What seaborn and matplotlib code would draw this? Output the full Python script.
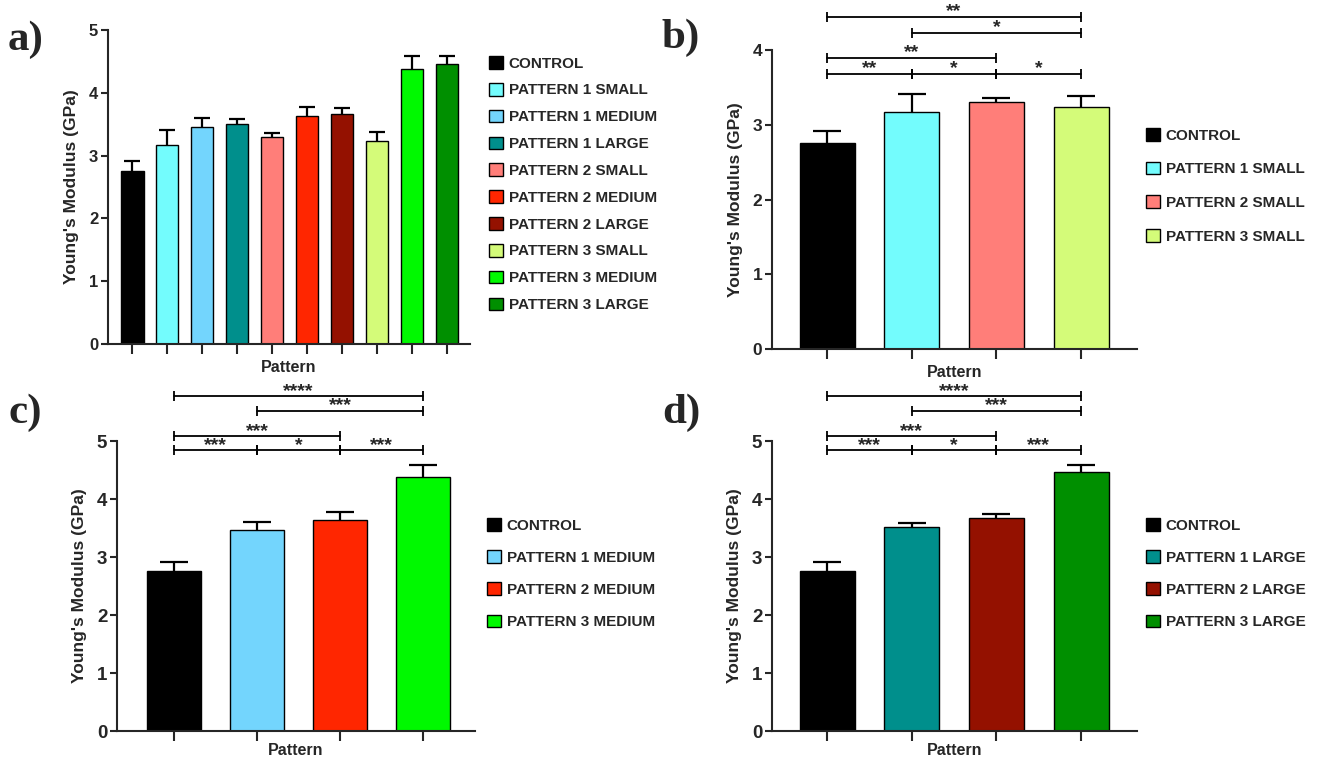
import matplotlib
matplotlib.use('Agg')
import matplotlib.pyplot as plt
import seaborn as sns
import pandas as pd
from matplotlib.patches import Patch

sns.set_style('ticks')
plt.rcParams['font.family'] = ['Liberation Sans', 'DejaVu Sans']
plt.rcParams['font.weight'] = 'bold'

# data
groups = ['CONTROL',
          'PATTERN 1 SMALL', 'PATTERN 1 MEDIUM', 'PATTERN 1 LARGE',
          'PATTERN 2 SMALL', 'PATTERN 2 MEDIUM', 'PATTERN 2 LARGE',
          'PATTERN 3 SMALL', 'PATTERN 3 MEDIUM', 'PATTERN 3 LARGE']
modulus = [2.76, 3.17, 3.46, 3.51, 3.30, 3.63, 3.67, 3.24, 4.38, 4.46]
sem = [0.16, 0.24, 0.14, 0.08, 0.06, 0.15, 0.08, 0.14, 0.21, 0.13]
colors = ['#000000', '#73FCFD', '#73D5FD', '#008F8C', '#FF7E79',
          '#FF2600', '#941100', '#D4FB79', '#00F900', '#008F00']

small_groups = ['CONTROL', 'PATTERN 1 SMALL', 'PATTERN 2 SMALL', 'PATTERN 3 SMALL']
medium_groups = ['CONTROL', 'PATTERN 1 MEDIUM', 'PATTERN 2 MEDIUM', 'PATTERN 3 MEDIUM']
large_groups = ['CONTROL', 'PATTERN 1 LARGE', 'PATTERN 2 LARGE', 'PATTERN 3 LARGE']

# significance brackets: (from, to, height, stars)
sig_small = [(0, 1, 3.68, '**'), (1, 2, 3.68, '*'), (2, 3, 3.68, '*'),
             (0, 2, 3.89, '**'), (1, 3, 4.23, '*'), (0, 3, 4.44, '**')]
sig_medium = [(0, 1, 4.84, '***'), (1, 2, 4.84, '*'), (2, 3, 4.84, '***'),
              (0, 2, 5.08, '***'), (1, 3, 5.52, '***'), (0, 3, 5.77, '****')]
sig_large = sig_medium

df = pd.DataFrame({'group': groups, 'modulus': modulus, 'sem': sem})
palette = dict(zip(groups, colors))

fig = plt.figure(figsize=(13.2, 7.58), dpi=100)


def panel(rect, names, xlim, ymax, tick_fs, capsize, sig, leg_anchor, leg_space,
          letter, letter_xy, xlab_pad):
    ax = fig.add_axes(rect)
    sub = df.set_index('group').loc[names].reset_index()
    sns.barplot(data=sub, x='group', y='modulus', hue='group', palette=palette,
                order=names, width=0.65, edgecolor='black', linewidth=1,
                saturation=1, legend=False, ax=ax)
    eb = ax.errorbar(range(len(names)), sub['modulus'], yerr=[[0] * len(names), sub['sem']],
                     fmt='none', ecolor='black', elinewidth=1.6, capsize=capsize, capthick=1.6)
    eb[1][0].set_visible(False)  # no lower cap
    ax.set_xlim(*xlim)
    ax.set_ylim(0, ymax)
    ax.set_yticks(range(ymax + 1))
    ax.set_xticks(range(len(names)))
    ax.set_xticklabels([])
    ax.tick_params(axis='x', length=7, width=1.5, direction='out')
    ax.tick_params(axis='y', length=5, width=1.5, direction='out', labelsize=tick_fs, pad=2)
    for lab in ax.get_yticklabels():
        lab.set_fontweight('bold')
    sns.despine(ax=ax)
    ax.spines['left'].set_linewidth(1.5)
    ax.spines['bottom'].set_linewidth(1.5)
    ax.set_xlabel('Pattern', fontsize=11.5, fontweight='bold', labelpad=xlab_pad)
    ax.set_ylabel("Young's Modulus (GPa)", fontsize=12.5, fontweight='bold', labelpad=7)

    for a, b, h, stars in sig:
        ax.plot([a, b], [h, h], color='black', lw=1.3, marker='|', markersize=7,
                markeredgewidth=1.3, clip_on=False)
        ax.annotate(stars, ((a + b) / 2, h), xytext=(0, 0.5), textcoords='offset points',
                    ha='center', va='baseline', fontsize=14, fontweight='bold',
                    annotation_clip=False)

    handles = [Patch(facecolor=palette[n], edgecolor='black', linewidth=1, label=n) for n in names]
    fig.legend(handles=handles, loc='upper left', bbox_to_anchor=leg_anchor,
               bbox_transform=fig.transFigure, frameon=False,
               handlelength=0.9, handleheight=0.9, handletextpad=0.4,
               labelspacing=leg_space, borderpad=0, borderaxespad=0,
               prop={'weight': 'bold', 'size': 11})
    fig.text(letter_xy[0], letter_xy[1], letter, fontsize=31, fontweight='bold',
             family=['Liberation Serif', 'DejaVu Serif'], va='center', ha='left')
    return ax


W, H = 1320, 758
panel([108 / W, 1 - 344 / H, 362 / W, 314 / H], groups, (-0.69, 9.66), 5, 12, 6,
      [], (489 / W, 1 - 56 / H), 0.8, 'a)', (8 / W, 1 - 40 / H), 1)
panel([772 / W, 1 - 349 / H, 365 / W, 299 / H], small_groups, (-0.65, 3.66), 4, 12.5, 10,
      sig_small, (1146 / W, 1 - 128 / H), 1.25, 'b)', (662 / W, 1 - 38 / H), 1)
panel([117 / W, 1 - 731 / H, 358 / W, 290 / H], medium_groups, (-0.69, 3.63), 5, 13.5, 10,
      sig_medium, (487 / W, 1 - 518 / H), 1.15, 'c)', (8 / W, 1 - 413 / H), -2)
panel([772 / W, 1 - 731 / H, 365 / W, 290 / H], large_groups, (-0.65, 3.66), 5, 13.5, 10,
      sig_large, (1146 / W, 1 - 518 / H), 1.15, 'd)', (662 / W, 1 - 413 / H), -2)

fig.savefig('out.png', dpi=100)
